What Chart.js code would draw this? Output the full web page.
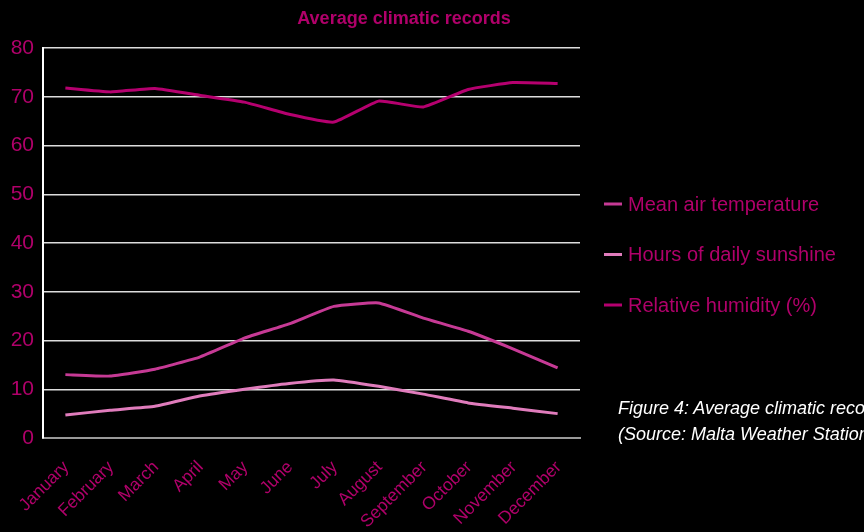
<!DOCTYPE html>
<html>
<head>
<meta charset="utf-8">
<script src="https://cdn.jsdelivr.net/npm/chart.js@4.4.0/dist/chart.umd.min.js"></script>
<style>
  html, body { margin: 0; padding: 0; background: #000; overflow: hidden; }
  .wrap { position: relative; width: 864px; height: 532px; overflow: hidden; }
  .caption {
    position: absolute; left: 618px; top: 395px; white-space: nowrap;
    color: #fff; font: italic 18px "Liberation Sans", Arial, sans-serif; line-height: 26px;
  }
</style>
</head>
<body>
<div class="wrap">
  <canvas id="myChart" width="864" height="532"></canvas>
  <div class="caption">Figure 4: Average climatic records<br>(Source: Malta Weather Station)</div>
</div>
<script>
// Данные графика

const months = ['January', 'February', 'March', 'April', 'May', 'June', 'July', 'August', 'September', 'October', 'November', 'December']
const temperature = [13.0, 12.7, 14.1, 16.6, 20.5, 23.4, 27.0, 27.7, 24.6, 21.9, 18.3, 14.4]
const sunshine = [4.7, 5.7, 6.5, 8.6, 10.0, 11.2, 11.9, 10.6, 9.0, 7.2, 6.1, 5.0]
const humidity = [71.8, 71.0, 71.7, 70.3, 68.9, 66.4, 64.8, 69.1, 67.9, 71.5, 72.9, 72.7]

const pink = '#b0006a'
const font = '"Liberation Sans", Arial, sans-serif'

// Заголовок + легенда справа
const extrasPlugin = {
    id: 'extras',
    afterDraw(chart) {
        const c = chart.ctx
        c.save()
        c.fillStyle = pink
        c.font = 'bold 18px ' + font
        c.textAlign = 'center'
        c.textBaseline = 'middle'
        c.fillText('Average climatic records', 404, 19)

        // легенда
        c.font = '20px ' + font
        c.textAlign = 'left'
        chart.data.datasets.forEach((ds, i) => {
            const y = 204 + i * 50.5
            c.strokeStyle = ds.borderColor
            c.lineWidth = 3
            c.beginPath()
            c.moveTo(604, y)
            c.lineTo(622, y)
            c.stroke()
            c.fillStyle = pink
            c.fillText(ds.label, 628, y + 1)
        })
        c.restore()
    }
}

const ctx = document.getElementById('myChart').getContext('2d')

const myChart = new Chart(ctx, {
    type: 'line',
    data: {
        labels: months,
        datasets: [{
            label: 'Mean air temperature',
            data: temperature,
            borderColor: '#c63a95',
            borderWidth: 3,
            pointRadius: 0,
            tension: 0.12
        }, {
            label: 'Hours of daily sunshine',
            data: sunshine,
            borderColor: '#e07cbc',
            borderWidth: 3,
            pointRadius: 0,
            tension: 0.12
        }, {
            label: 'Relative humidity (%)',
            data: humidity,
            borderColor: '#b5006f',
            borderWidth: 3,
            pointRadius: 0,
            tension: 0.12
        }]
    },
    options: {
        responsive: false,
        animation: false,
        layout: { padding: { top: 48, left: 0, right: 284, bottom: 0 } },
        plugins: {
            title: { display: false },
            tooltip: { enabled: false },
            legend: { display: false }
        },
        scales: {
            x: {
                offset: true,
                afterFit(scale) { scale.height = 94 },
                grid: { display: false },
                border: { color: '#999', width: 2 },
                ticks: {
                    color: pink,
                    font: { size: 17.5, family: font },
                    maxRotation: 45,
                    minRotation: 45,
                    autoSkip: false,
                    padding: 11,
                    labelOffset: 1
                }
            },
            y: {
                min: 0,
                max: 80,
                afterFit(scale) { scale.width = 43 },
                ticks: {
                    stepSize: 10,
                    color: pink,
                    font: { size: 21, family: font },
                    padding: 9
                },
                grid: { color: '#dddddd', lineWidth: 1.5, drawTicks: false },
                border: { color: '#ffffff', width: 2 }
            }
        }
    },
    plugins: [extrasPlugin]
})
</script>
</body>
</html>
